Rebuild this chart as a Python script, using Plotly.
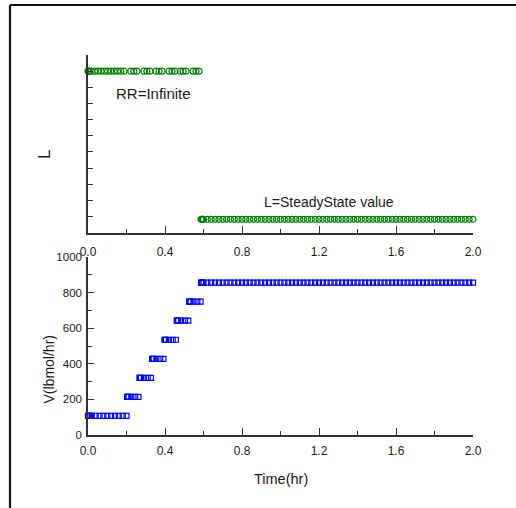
import plotly.graph_objects as go

# ---------------- data ----------------
# Time grid of the common steady part (hr)
t_steady = [0.587, 0.591, 0.595,
            0.60, 0.62, 0.64, 0.66, 0.68, 0.70, 0.72, 0.74, 0.76, 0.78,
            0.80, 0.82, 0.84, 0.86, 0.88, 0.90, 0.92, 0.94, 0.96, 0.98,
            1.00, 1.02, 1.04, 1.06, 1.08, 1.10, 1.12, 1.14, 1.16, 1.18,
            1.20, 1.22, 1.24, 1.26, 1.28, 1.30, 1.32, 1.34, 1.36, 1.38,
            1.40, 1.42, 1.44, 1.46, 1.48, 1.50, 1.52, 1.54, 1.56, 1.58,
            1.60, 1.62, 1.64, 1.66, 1.68, 1.70, 1.72, 1.74, 1.76, 1.78,
            1.80, 1.82, 1.84, 1.86, 1.88, 1.90, 1.92, 1.94, 1.96, 1.98,
            2.00]

# Vapour-rate step blocks: times and level of each block
t_V_blocks = [
    [0.000, 0.004, 0.008, 0.012, 0.020, 0.040, 0.060, 0.080, 0.100,
     0.120, 0.140, 0.160, 0.180, 0.200],
    [0.203, 0.207, 0.211, 0.225, 0.245, 0.262],
    [0.267, 0.271, 0.275, 0.290, 0.310, 0.327],
    [0.333, 0.337, 0.341, 0.355, 0.375, 0.392],
    [0.397, 0.401, 0.405, 0.420, 0.440, 0.457],
    [0.461, 0.465, 0.469, 0.484, 0.504, 0.521],
    [0.525, 0.529, 0.533, 0.548, 0.568, 0.585],
    t_steady,
]
V_levels = [107, 214, 321, 428, 535, 642, 749, 856]

# Liquid-rate (arbitrary units) series
t_L_high = [0.000, 0.003, 0.006, 0.017, 0.034, 0.051, 0.068, 0.085, 0.102,
            0.119, 0.136, 0.153, 0.170, 0.187,
            0.222, 0.238, 0.254,
            0.290, 0.306, 0.322,
            0.353, 0.369, 0.385,
            0.420, 0.436, 0.452,
            0.479, 0.494, 0.509,
            0.545, 0.561, 0.577]
L_high = 10.0
t_L_low = t_steady
L_low = 0.83

x_ticks = [0.0, 0.4, 0.8, 1.2, 1.6, 2.0]
v_ticks = [0, 200, 400, 600, 800, 1000]

# ---------------- build ----------------
V_t, V_v = [], []
for ts, lv in zip(t_V_blocks, V_levels):
    V_t += ts
    V_v += [lv] * len(ts)

FONT = "Liberation Sans, Arial, sans-serif"
AX = "#333333"
TXT = "#1a1a1a"
GREEN = "rgb(0,128,0)"
BLUE = "rgb(0,0,255)"
W, H = 516, 508

fig = go.Figure()
for tt, lv in [(t_L_high, L_high), (t_L_low, L_low)]:
    fig.add_trace(go.Scatter(
        x=tt, y=[lv] * len(tt), mode="markers",
        marker=dict(symbol="circle-open", size=6, color=GREEN,
                    line=dict(width=1.2, color=GREEN)),
        cliponaxis=False, xaxis="x", yaxis="y", showlegend=False))
fig.add_trace(go.Scatter(
    x=V_t, y=V_v, mode="markers",
    marker=dict(symbol="square-open", size=5, color=BLUE,
                line=dict(width=1.2, color=BLUE)),
    cliponaxis=False, xaxis="x2", yaxis="y2", showlegend=False))

xdom = [88 / W, 473 / W]
top_dom = [(H - 232.7) / H, (H - 55) / H]
bot_dom = [(H - 435) / H, (H - 257) / H]

common_x = dict(
    range=[0, 2.0], domain=xdom, showgrid=False, zeroline=False,
    automargin=False,
    showline=True, linecolor=AX, linewidth=1.5,
    ticks="inside", ticklen=7, tickwidth=1.2, tickcolor=AX,
    tickvals=x_ticks, ticktext=["%.1f" % v for v in x_ticks],
    tickfont=dict(family=FONT, size=12, color=TXT),
    minor=dict(dtick=0.2, tick0=0, ticks="inside", ticklen=4,
               tickwidth=1.2, tickcolor=AX, showgrid=False),
)

fig.update_layout(
    template="none",
    width=W, height=H, margin=dict(l=0, r=0, t=0, b=0, pad=0),
    autosize=False,
    paper_bgcolor="white", plot_bgcolor="white",
    font=dict(family=FONT, color=TXT),
    xaxis=dict(common_x, anchor="y", ticklabelstandoff=7),
    yaxis=dict(range=[0, 11], domain=top_dom, showgrid=False, zeroline=False,
               automargin=False,
               showline=True, linecolor=AX, linewidth=1.5,
               ticks="inside", ticklen=5, tickwidth=1.2, tickcolor=AX,
               dtick=1, tick0=0, showticklabels=False, anchor="x"),
    xaxis2=dict(common_x, anchor="y2", ticklabelstandoff=4),
    yaxis2=dict(range=[0, 1000], domain=bot_dom, showgrid=False, zeroline=False,
                automargin=False,
                showline=True, linecolor=AX, linewidth=1.5,
                ticks="inside", ticklen=6, tickwidth=1.2, tickcolor=AX,
                tickvals=v_ticks, ticktext=[str(v) for v in v_ticks],
                tickfont=dict(family=FONT, size=11.5, color=TXT),
                ticklabelstandoff=2,
                minor=dict(dtick=100, tick0=0, ticks="inside", ticklen=4,
                           tickwidth=1.2, tickcolor=AX, showgrid=False),
                anchor="x2"),
)

ann = dict(showarrow=False, xanchor="center", yanchor="middle")
fig.add_annotation(x=0.34, y=8.59, xref="x", yref="y", text="RR=Infinite",
                   font=dict(family=FONT, size=15, color=TXT), **ann)
fig.add_annotation(x=1.252, y=1.92, xref="x", yref="y",
                   text="L=SteadyState value",
                   font=dict(family=FONT, size=14, color=TXT), **ann)
fig.add_annotation(x=44 / W, y=(H - 155) / H, xref="paper", yref="paper",
                   text="L", textangle=-90,
                   font=dict(family=FONT, size=17, color=TXT), **ann)
fig.add_annotation(x=48.5 / W, y=(H - 370) / H, xref="paper", yref="paper",
                   text="V(lbmol/hr)", textangle=-90,
                   font=dict(family=FONT, size=14, color=TXT), **ann)
fig.add_annotation(x=281 / W, y=(H - 479) / H, xref="paper", yref="paper",
                   text="Time(hr)",
                   font=dict(family=FONT, size=14.5, color=TXT), **ann)

# outer frame (top and left edges visible)
fig.add_shape(type="line", xref="paper", yref="paper",
              x0=10 / W, x1=1.02, y0=(H - 5) / H, y1=(H - 5) / H,
              line=dict(color="#111", width=2.2))
fig.add_shape(type="line", xref="paper", yref="paper",
              x0=10 / W, x1=10 / W, y0=-0.02, y1=(H - 5) / H,
              line=dict(color="#111", width=2.2))

fig.write_html("out.html",
               config={"displayModeBar": False},
               post_script="document.body.style.margin='0';"
                           "document.body.style.overflow='hidden';")
